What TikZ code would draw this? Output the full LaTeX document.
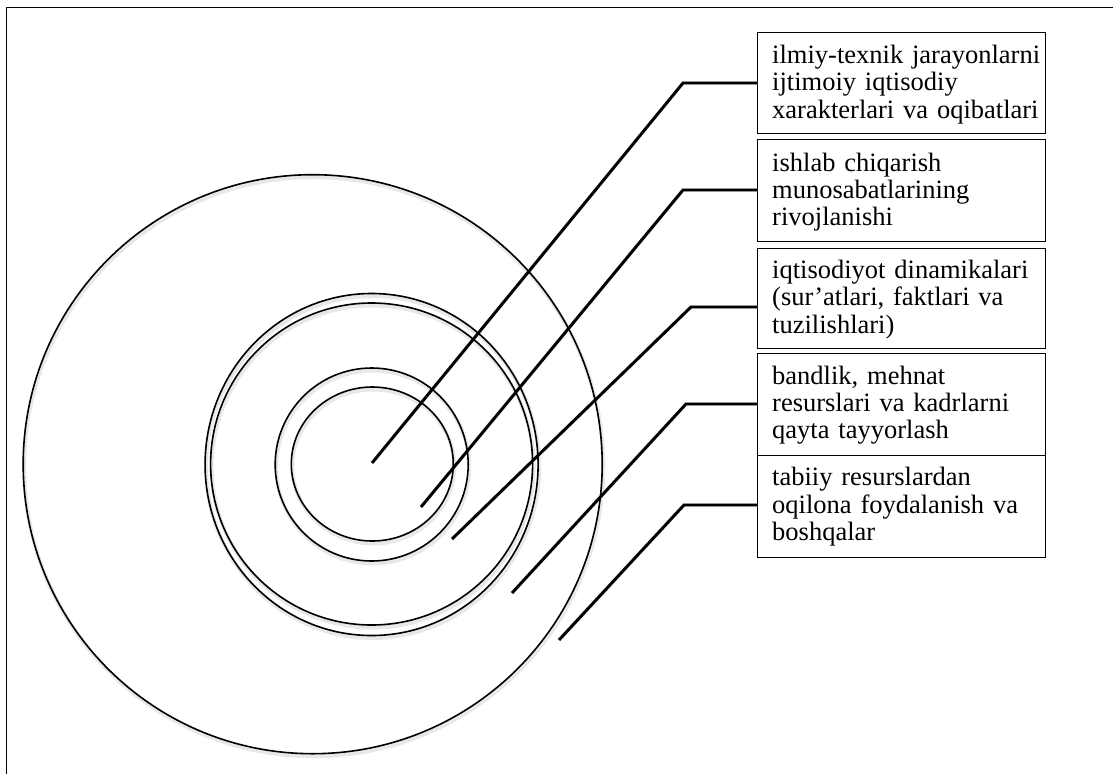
\documentclass[tikz,border=0pt]{standalone}
\usepackage{fontspec}
\setmainfont{Liberation Serif}
\begin{document}
\begin{tikzpicture}[x=1pt,y=-1pt,
  ring/.style={line width=1.6pt},
  shade/.style={line width=4pt, black!9},
  leader/.style={line width=2.9pt, line join=miter},
  box/.style={draw, line width=1.4pt, minimum width=288pt, inner sep=0pt, anchor=north west},
  txt/.style={font=\fontsize{26.5}{27.4}\selectfont, anchor=base west, align=left, inner sep=0pt, text width=280pt}]
\useasboundingbox (0,0) rectangle (1113,774);
% frame
\draw[line width=1.5pt] (6.5,774) -- (6.5,7.5) -- (1113,7.5);
% leader coordinates
\coordinate (s1) at (372,463);
\coordinate (e1) at (683,83);
\coordinate (s2) at (421,507);
\coordinate (e2) at (683,190);
\coordinate (s3) at (452,539);
\coordinate (e3) at (691,307);
\coordinate (s4) at (512,593);
\coordinate (e4) at (686,404);
\coordinate (s5) at (559,640);
\coordinate (e5) at (684,505);
% boxes
\node[box, minimum height=101pt] (b1) at (757,32) {};
\node[box, minimum height=102pt] (b2) at (757,139) {};
\node[box, minimum height=100pt] (b3) at (757,248) {};
\node[box, minimum height=102pt] (b4) at (757,353) {};
\node[box, minimum height=102pt] (b5) at (757,455) {};
% shadows
\begin{scope}[shift={(1,2.5)}]
\draw[shade] (312.7,464.2) circle[radius=289.5pt];
\draw[shade] (371.6,464.5) ellipse[x radius=166.5pt, y radius=171pt];
\draw[shade] (371.6,464) circle[radius=161pt];
\draw[shade] (371.7,464.5) circle[radius=96.5pt];
\draw[shade] (372.3,464) ellipse[x radius=81pt, y radius=77pt];
\draw[shade] (s1) -- (e1) -- (e1 -| b1.west);
\draw[shade] (s2) -- (e2) -- (e2 -| b2.west);
\draw[shade] (s3) -- (e3) -- (e3 -| b3.west);
\draw[shade] (s4) -- (e4) -- (e4 -| b4.west);
\draw[shade] (s5) -- (e5) -- (e5 -| b5.west);
\end{scope}
% rings
\draw[ring] (312.7,464.2) circle[radius=289.5pt];
\draw[ring] (371.6,464.5) ellipse[x radius=166.5pt, y radius=171pt];
\draw[ring] (371.6,464) circle[radius=161pt];
\draw[ring] (371.7,464.5) circle[radius=96.5pt];
\draw[ring] (372.3,464) ellipse[x radius=81pt, y radius=77pt];
% leaders
\draw[leader] (s1) -- (e1) -- (e1 -| b1.west);
\draw[leader] (s2) -- (e2) -- (e2 -| b2.west);
\draw[leader] (s3) -- (e3) -- (e3 -| b3.west);
\draw[leader] (s4) -- (e4) -- (e4 -| b4.west);
\draw[leader] (s5) -- (e5) -- (e5 -| b5.west);
% texts
\node[txt] (t1) at (772,63.3) {ilmiy-texnik jarayonlarni\\ijtimoiy iqtisodiy\\xarakterlari va oqibatlari};
\node[txt] (t2) at (772,171) {ishlab chiqarish\\munosabatlarining\\rivojlanishi};
\node[txt] (t3) at (772,278.5) {iqtisodiyot dinamikalari\\(sur’atlari, faktlari va\\tuzilishlari)};
\node[txt] (t4) at (772,384) {bandlik, mehnat\\resurslari va kadrlarni\\qayta tayyorlash};
\node[txt] (t5) at (772,485.7) {tabiiy resurslardan\\oqilona foydalanish va\\boshqalar};
\end{tikzpicture}
\end{document}
